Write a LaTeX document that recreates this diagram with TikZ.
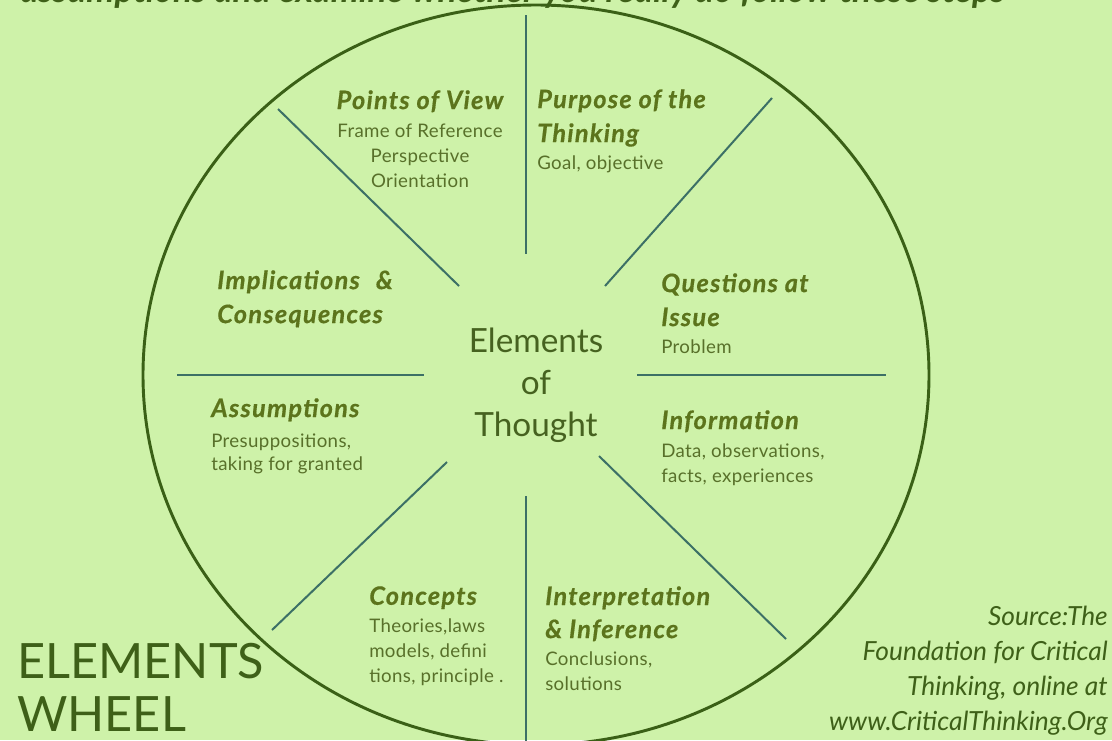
\documentclass[tikz,border=0pt]{standalone}
\usepackage{fontspec}
\setmainfont{Lato}
\newfontfamily\titleFont{Lato}[LetterSpace=5, FakeBold=0.5]
\newfontfamily\bodyFont{Lato}[LetterSpace=2]
\usetikzlibrary{positioning}
\definecolor{wheelBg}{RGB}{206,242,169}
\definecolor{wheelRimColor}{RGB}{58,96,22}
\definecolor{spokeColor}{RGB}{60,112,102}
\definecolor{titleColor}{RGB}{92,116,28}
\definecolor{bodyColor}{RGB}{88,112,42}
\definecolor{hubColor}{RGB}{70,98,32}
\definecolor{bannerColor}{RGB}{62,96,24}
\newcommand{\elemTitle}[1]{{\fontsize{19pt}{18.75pt}\selectfont\titleFont\bfseries\itshape\color{titleColor}#1}}
\tikzset{
    elemText/.style={inner sep=0pt, align=left, anchor=north west, text=bodyColor, font=\fontsize{14pt}{18.75pt}\selectfont\bodyFont},
    hubText/.style={inner sep=0pt, align=center, anchor=north, text=hubColor, font=\fontsize{25pt}{31.5pt}\selectfont},
    bannerText/.style={inner sep=0pt, align=left, anchor=north west, text=bannerColor, font=\fontsize{36.5pt}{39.75pt}\selectfont},
    sourceText/.style={inner sep=0pt, align=right, anchor=north east, text=bannerColor, font=\fontsize{19.75pt}{26.25pt}\selectfont\itshape},
    wheelRim/.style={draw=wheelRimColor, line width=2.2pt},
    spoke/.style={draw=spokeColor, line width=1.5pt}
}

\begin{document}
\begin{tikzpicture}[x=0.75pt, y=-0.75pt]
    \clip (0,0) rectangle (1112,740);
    \fill [wheelBg] (0,0) rectangle (1112,740);

    % heading cut by the top edge
    \node (heading) [inner sep=0pt, anchor=base west, text=bannerColor, font=\fontsize{26.5pt}{30pt}\selectfont\bfseries\itshape] at (20,2.5) {assumptions and examine whether you really do follow these steps};

    % wheel and spokes
    \draw [wheelRim] (536,375) ellipse [x radius=294.75pt, y radius=277.5pt];
    \draw [spoke] (526,15) -- (526,254);
    \draw [spoke] (772,98) -- (605,286);
    \draw [spoke] (637,375) -- (886,375);
    \draw [spoke] (599,456) -- (786,639);
    \draw [spoke] (526,496) -- (526,745);
    \draw [spoke] (447,462) -- (272,630);
    \draw [spoke] (177,375) -- (424,375);
    \draw [spoke] (278,109) -- (459,286);

    % hub
    \node (hub) [hubText] at (536,328) {Elements\\ of\\ Thought};

    % the eight elements
    \node (view) [elemText, anchor=north, align=center] at (420,90) {\elemTitle{Points of View}\\[2.25pt] Frame of Reference\\ Perspective\\ Orientation};
    \node (purpose) [elemText] at (537,89) {\elemTitle{Purpose of the}\\[6.75pt] \elemTitle{Thinking}\\[1.5pt] Goal, objective};
    \node (questions) [elemText] at (661,273) {\elemTitle{Questions at}\\[6.75pt] \elemTitle{Issue}\\[1.5pt] Problem};
    \node (information) [elemText] at (661,410) {\elemTitle{Information}\\[2.25pt] Data, observations,\\ facts, experiences};
    \node (inference) [elemText] at (545,586) {\elemTitle{Interpretation}\\[6pt] \elemTitle{\& Inference}\\[1.5pt] Conclusions,\\ solutions};
    \node (concepts) [elemText] at (369,586) {\elemTitle{Concepts}\\[2.25pt] Theories,laws\\ models, defini\\ tions, principle .};
    \node (assumptions) [elemText] at (211,398) {\elemTitle{Assumptions}\\[3.75pt] Presuppositions,\\[-1.5pt] taking for granted};
    \node (implications) [elemText] at (217,270) {\elemTitle{Implications\hspace{12pt}\&}\\[6.75pt] \elemTitle{Consequences}};

    % corner texts
    \node (banner) [bannerText] at (17,643) {ELEMENTS\\ WHEEL};
    \node (source) [sourceText] at (1108,606) {Source:The\\ Foundation for Critical\\ Thinking, online at\\ www.CriticalThinking.Org};
\end{tikzpicture}
\end{document}
